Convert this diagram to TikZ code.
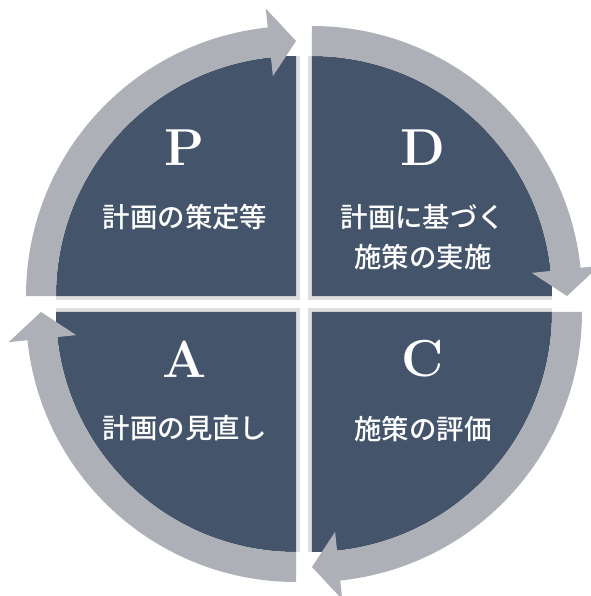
\documentclass[tikz,border=0pt]{standalone}
\usepackage{fontspec}
\newfontfamily\jpfont{Noto Sans CJK JP}[UprightFont=* Medium]
\usetikzlibrary{positioning, calc}
\definecolor{quaddark}{RGB}{68,84,106}
\definecolor{ringgrey}{RGB}{173,176,183}
\definecolor{edgegrey}{RGB}{222,222,222}

\begin{document}
\begin{tikzpicture}[scale=0.025,
    quadrant/.style={fill=quaddark},
    gapshadow/.style={draw=edgegrey, line width=5pt},
    ringarrow/.style={fill=ringgrey},
    phase/.style={text=white, inner sep=0pt, font=\fontsize{37}{40}\selectfont\bfseries},
    task/.style={text=white, inner sep=0pt, align=center, font=\jpfont\fontsize{19.5}{28.5}\selectfont}
]
    \useasboundingbox (-304,-292) rectangle (286,304);

    % four quarters, each with its grey arrow running clockwise
    \foreach \cx/\cy/\s in {-8/8/180, 8/8/90, 8/-8/0, -8/-8/270}{
        \pgfmathsetmacro{\e}{\s-90}
        \pgfmathsetmacro{\b}{\s-84}
        \coordinate (q) at (\cx,\cy);
        \draw[gapshadow] ($(q)+(\s:240)$) -- (q) -- ($(q)+(\e:240)$);
        \fill[quadrant] (q) -- ($(q)+(\s:240)$) arc[start angle=\s, end angle=\e, radius=240] -- cycle;
        \fill[ringarrow] ($(q)+(\s:270)$) arc[start angle=\s, end angle=\b, radius=270]
            -- ($(q)+(\b:289)$) -- ($(q)+(\e:255)$) -- ($(q)+(\b:221)$) -- ($(q)+(\b:240)$)
            arc[start angle=\b, end angle=\s, radius=240] -- cycle;
    }

    \node[phase] (P) at (-119,156) {P};
    \node[phase] (D) at (119,156) {D};
    \node[phase] (A) at (-119,-55) {A};
    \node[phase] (C) at (119,-55) {C};

    \node[task, below=27pt of P] (plan) {計画の策定等};
    \node[task, below=27pt of D] (do) {計画に基づく\\施策の実施};
    \node[task, below=27pt of A] (act) {計画の見直し};
    \node[task, below=27pt of C] (check) {施策の評価};
\end{tikzpicture}
\end{document}
